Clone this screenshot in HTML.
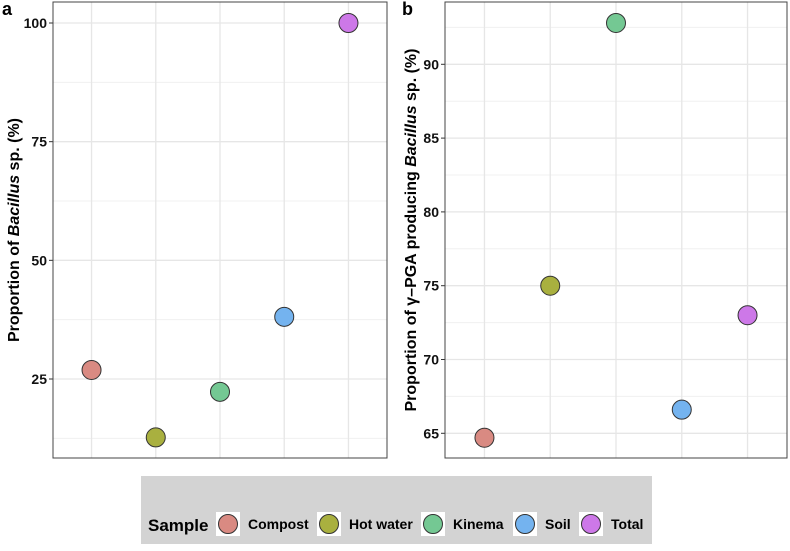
<!DOCTYPE html>
<html><head><meta charset="utf-8"><style>
body{margin:0;background:#fff;font-family:"Liberation Sans",Arial,sans-serif;}
svg text{font-family:"Liberation Sans",Arial,sans-serif;font-weight:bold;}
</style></head><body>
<svg id="chart" width="790" height="546" xmlns="http://www.w3.org/2000/svg"></svg>
<script>
const categories=["Compost","Hot water","Kinema","Soil","Total"];
const colors=["#d98a82","#a9b03f","#74c893","#74b3ef","#cd78e8"];
const valuesA=[26.9,12.7,22.3,38.1,100];
const valuesB=[64.7,75,92.8,66.6,73];
const ticksA=[25,50,75,100];
const ticksB=[65,70,75,80,85,90];
const NS="http://www.w3.org/2000/svg";
const svg=document.getElementById('chart');
function mk(t,a,p){const e=document.createElementNS(NS,t);for(const k in a)e.setAttribute(k,a[k]);(p||svg).appendChild(e);return e;}
function panel(cfg){
  const g=mk('g',{});
  
  
  const {x0,x1,y0,y1}=cfg;
  const ys=v=>cfg.ty0+(v-cfg.v0)*(cfg.ty1-cfg.ty0)/(cfg.v1-cfg.v0);
  const step=(x1-x0)/(categories.length+0.2);
  const xs=i=>x0+step*(0.6+i);
  const st=cfg.ticks[1]-cfg.ticks[0];
  for(let v=cfg.ticks[0]-st/2;v<=cfg.ticks[cfg.ticks.length-1]+st/2+1e-9;v+=st){const y=ys(v);if(y>y0&&y<y1){const l=mk('line',{x1:x0,x2:x1,y1:y,y2:y,stroke:'#f0f0f0','stroke-width':1},g);}}
  cfg.ticks.forEach(v=>{const y=ys(v);
    const l=mk('line',{x1:x0,x2:x1,y1:y,y2:y,stroke:'#e6e6e6','stroke-width':1.3},g);
    
    const tk=mk('line',{x1:x0-4,x2:x0,y1:y,y2:y,stroke:'#333'},g);
    
    const t=mk('text',{x:x0-6,y:y+5,'text-anchor':'end','font-size':14,fill:'#111'},g);t.textContent=v;
    });
  categories.forEach((c,i)=>{const l=mk('line',{x1:xs(i),x2:xs(i),y1:y0,y2:y1,stroke:'#e6e6e6','stroke-width':1.3},g);
    });
  const r=mk('rect',{x:x0,y:y0,width:x1-x0,height:y1-y0,fill:'none',stroke:'#444','stroke-width':1},g);
  
  cfg.values.forEach((v,i)=>{const c=mk('circle',{cx:xs(i),cy:ys(v),r:9.5,fill:colors[i],stroke:'#333','stroke-width':1},g);
    });
  const lab=mk('text',{x:cfg.lx,y:15,'font-size':18,fill:'#000'},g);lab.textContent=cfg.letter;
  
  const yt=mk('text',{transform:`translate(${cfg.tx},${(y0+y1)/2}) rotate(-90)`,'text-anchor':'middle','font-size':16,fill:'#000'},g);
  
  yt.innerHTML=cfg.title;
}
panel({name:'panel-a',x0:53,x1:387,y0:2,y1:458,v0:25,v1:100,ty0:379,ty1:23,ticks:ticksA,values:valuesA,letter:'a',lx:2,tx:19,
  title:'Proportion of <tspan font-style="italic">Bacillus</tspan> sp. (%)'});
panel({name:'panel-b',x0:445,x1:787,y0:2,y1:458,v0:65,v1:90,ty0:433.3,ty1:64.3,ticks:ticksB,values:valuesB,letter:'b',lx:402,tx:416,
  title:'Proportion of γ–PGA producing <tspan font-style="italic">Bacillus</tspan> sp. (%)'});
const lg=mk('g',{});


const bg=mk('rect',{x:141,y:476,width:511,height:68,fill:'#d3d3d3'},lg);


const lt=mk('text',{x:148,y:531,'font-size':17,fill:'#000'},lg);lt.textContent='Sample';


const lx=[216,317,421,513,579];
categories.forEach((c,i)=>{
  const e=mk('g',{},lg);
  
  
  mk('rect',{x:lx[i],y:512,width:24,height:24,fill:'#fff'},e);
  mk('circle',{cx:lx[i]+12,cy:524,r:9.5,fill:colors[i],stroke:'#333','stroke-width':1},e);
  const t=mk('text',{x:lx[i]+32,y:529,'font-size':14,fill:'#000'},e);t.textContent=c;
});
</script>
</body></html>
